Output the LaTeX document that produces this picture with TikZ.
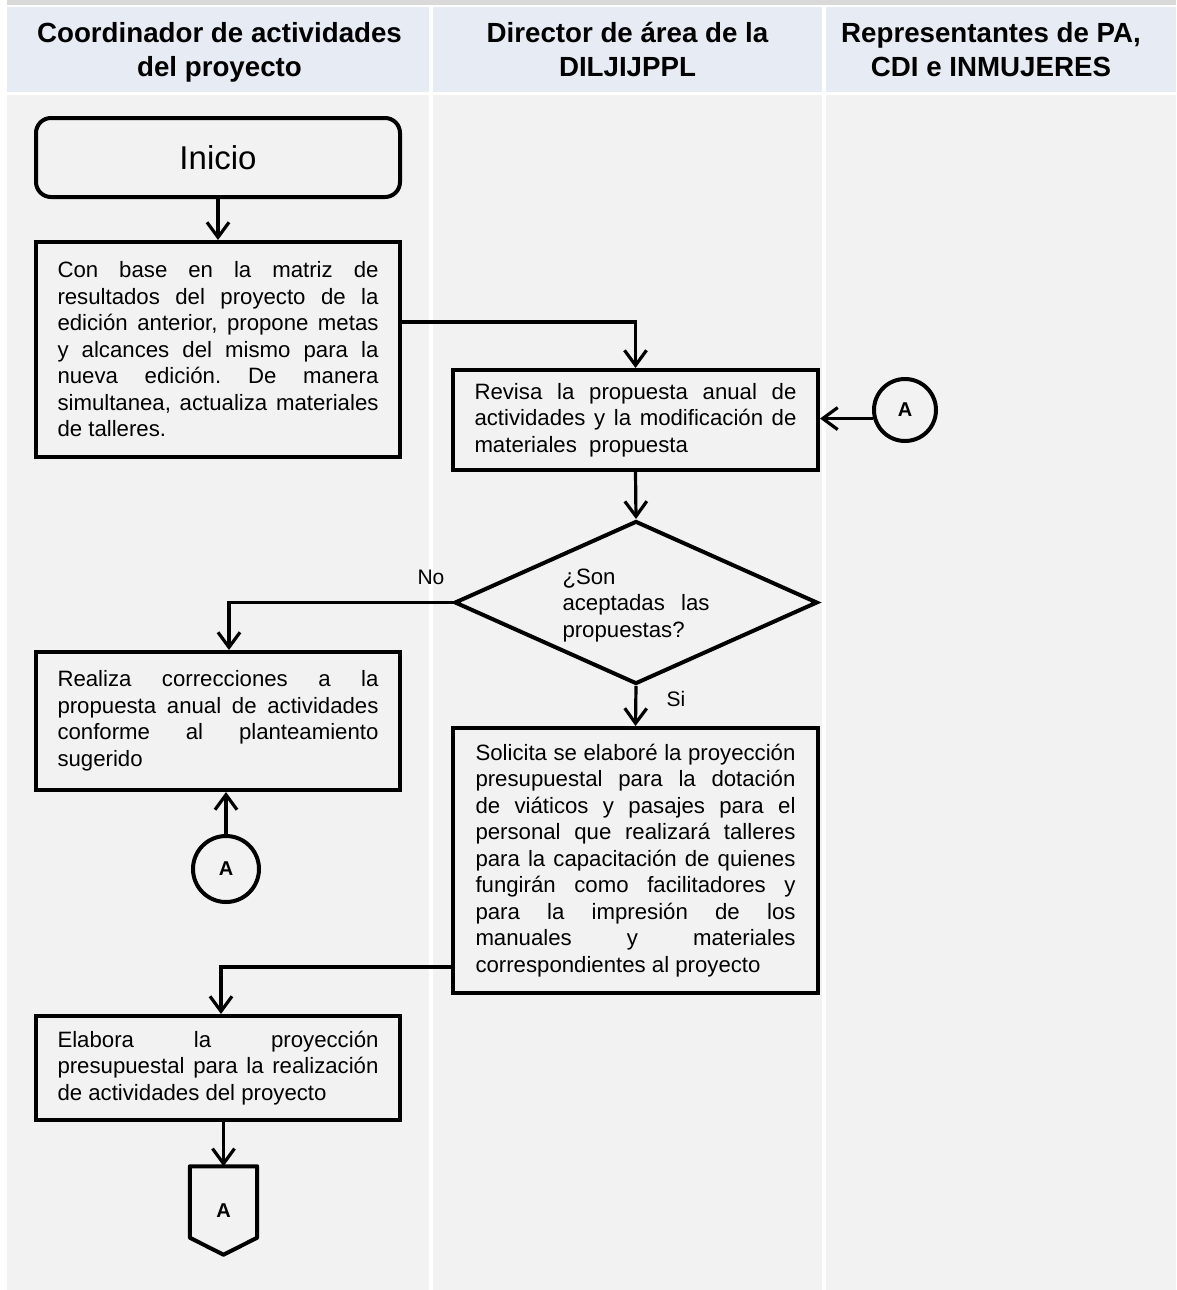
\documentclass[tikz,border=0pt]{standalone}
\usepackage{fontspec}
\setmainfont{Liberation Sans}
\usetikzlibrary{arrows.meta,shapes.geometric,calc}
\definecolor{bandgray}{HTML}{D9D9D9}
\definecolor{headblue}{HTML}{E7ECF4}
\definecolor{lanegray}{HTML}{F2F2F2}
\newcommand\flowtext{\fontsize{22.2}{26.5}\selectfont\frenchspacing\hyphenpenalty=10000 \exhyphenpenalty=10000 \tolerance=10000 \hbadness=10000 }
\begin{document}
\begin{tikzpicture}[x=1pt,y=-1pt,
  headtext/.style={inner sep=0pt, align=center,
    font=\bfseries\fontsize{27.7}{34}\selectfont},
  procbox/.style={draw, line width=4pt, rectangle, inner xsep=0pt, inner ysep=0pt,
    text width=321pt, align=justify, font=\flowtext},
  terminal/.style={draw, line width=4pt, rounded corners=15pt, minimum width=364pt,
    minimum height=79pt, font=\fontsize{33}{38}\selectfont},
  decision/.style={draw, line width=4pt, diamond, shape aspect=2.2, inner sep=0pt,
    minimum width=363pt, minimum height=163pt},
  dectext/.style={inner sep=0pt, text width=147pt, align=justify, font=\flowtext},
  connector/.style={draw, circle, line width=4pt, inner sep=0pt, font=\bfseries\fontsize{20}{24}\selectfont},
  offpage/.style={inner sep=0pt, minimum width=67pt, minimum height=71pt,
    text height=30.3pt, text depth=0pt, font=\bfseries\fontsize{20}{24}\selectfont},
  flowlabel/.style={font=\fontsize{21}{25}\selectfont, inner sep=0pt},
  arr/.style={line width=3.2pt, -{Straight Barb[length=15pt,width=22pt]}},
]
\useasboundingbox (0,0) rectangle (1176,1290);
\fill[white] (0,0) rectangle (1176,1290);
\fill[bandgray] (7,0) rectangle (1176,5);

% swimlane header cells
\fill[headblue] (7,7) rectangle (429,92);
\fill[headblue] (433,7) rectangle (822,92);
\fill[headblue] (826,7) rectangle (1176,92);
\node[headtext] (h1) at (219.5,52.5) {Coordinador de actividades\strut\\del proyecto\strut};
\node[headtext] (h2) at (627.5,52.5) {Director de área de la\strut\\DILJIJPPL\strut};
\node[headtext] (h3) at (991,52.5) {Representantes de PA,\strut\\CDI e INMUJERES\strut};

% swimlane bodies
\fill[lanegray] (7,95) rectangle (429,1290);
\fill[lanegray] (433,95) rectangle (822,1290);
\fill[lanegray] (826,95) rectangle (1176,1290);

% shapes
\node[terminal] (inicio) at (218,157.5) {Inicio};

\node[procbox, minimum width=364pt, minimum height=215pt] (b1) at (218,349.5)
  {Con base en la matriz de\linebreak resultados del proyecto de la\linebreak
   edición anterior, propone metas\linebreak y alcances del mismo para la\linebreak
   nueva edición. De manera\linebreak simultanea, actualiza materiales\linebreak de talleres.};

\node[procbox, text width=322pt, minimum width=365pt, minimum height=100pt] (b2) at (635.5,420)
  {Revisa la propuesta anual de\linebreak actividades y la modificación de\linebreak
   materiales~~propuesta};

\node[connector, minimum size=62pt] (cA1) at (905,410) {A};

\node[decision] (dec) at (636,602.5) {};
\node[dectext] (dect) at (636,605.5)
  {¿Son\newline aceptadas las\linebreak propuestas?};

\node[procbox, minimum width=364pt, minimum height=138pt] (b3) at (218,721)
  {Realiza correcciones a la\linebreak propuesta anual de actividades\linebreak
   conforme al planteamiento\linebreak sugerido};

\node[connector, minimum size=66pt] (cA2) at (226,869) {A};

\node[procbox, text width=320pt, minimum width=365pt, minimum height=265pt] (b4) at (635.5,860.5)
  {Solicita se elaboré la proyección\linebreak presupuestal para la dotación\linebreak
   de viáticos y pasajes para el\linebreak personal que realizará talleres\linebreak
   para la capacitación de quienes\linebreak fungirán como facilitadores y\linebreak
   para la impresión de los\linebreak manuales y materiales\linebreak
   correspondientes al proyecto};

\node[procbox, minimum width=364pt, minimum height=104pt] (b5) at (218,1068)
  {Elabora la proyección\linebreak presupuestal para la realización\linebreak
   de actividades del proyecto};

% off-page connector
\node[offpage] (offA) at (223.5,1202) {A};
\draw[line width=4pt, line join=round]
  (offA.north west) -- (offA.north east) -- (offA.south east)
  -- ($(offA.south)+(0,17)$) -- (offA.south west) -- cycle;

% connectors
\draw[arr] (inicio.south) -- (b1.north);
\draw[arr] ([yshift=27.5pt]b1.east) -| (b2.north);
\draw[arr] (cA1.195) -- (cA1.195 -| b2.east);
\draw[arr] (b2.south) -- (dec.north);
\draw[arr] (dec.west) -| ([xshift=11pt]b3.north);
\node[flowlabel] (lno) at (431,577) {No};
\draw[arr] (cA2.north) -- (cA2.north |- b3.south);
\draw[arr] (dec.south) -- (b4.north);
\node[flowlabel] (lsi) at (676,699) {Si};
\draw[arr] ([yshift=-106.5pt]b4.west) -| ([xshift=3pt]b5.north);
\draw[arr] (offA.north |- b5.south) -- (offA.north);
\end{tikzpicture}
\end{document}
